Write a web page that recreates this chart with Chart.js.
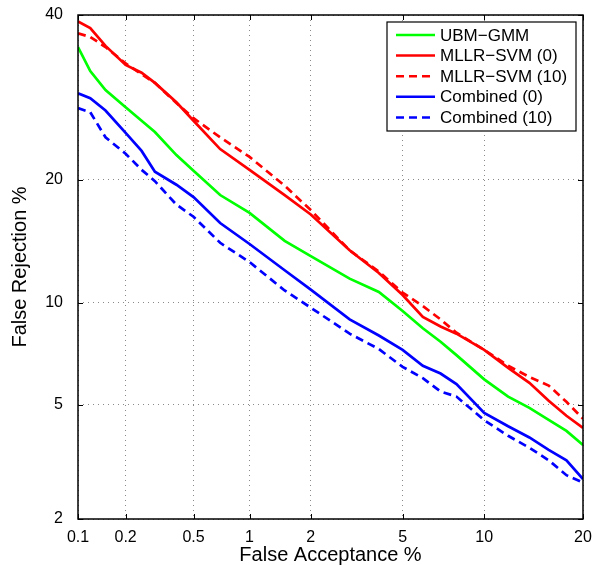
<!DOCTYPE html>
<html>
<head>
<meta charset="utf-8">
<title>DET curves</title>
<script src="https://cdn.jsdelivr.net/npm/chart.js@4/dist/chart.umd.min.js"></script>
<style>
  body { margin: 0; background: #fff; }
  canvas { display: block; }
</style>
</head>
<body>
<canvas id="detChart" width="593" height="565"></canvas>
<script>
// False acceptance operating points (%), shared by every curve
const falseAcceptance = [0.1, 0.12, 0.15, 0.2, 0.25, 0.3, 0.4, 0.5, 0.7, 1, 1.5, 2, 3, 4, 5, 6, 7, 8, 10, 12, 14, 16, 18, 20];

// False rejection (%)
const ubmGmm = [35.65, 32.5, 30.1, 28.0, 26.4, 25.1, 22.55, 20.9, 18.5, 16.85, 14.45, 13.25, 11.6, 10.7, 9.5, 8.5, 7.77, 7.1, 6.0, 5.3, 4.88, 4.46, 4.1, 3.68];
const mllrSvm0 = [39.1, 38.2, 35.8, 33.3, 32.3, 31.0, 28.6, 26.4, 23.2, 21.0, 18.5, 16.7, 13.7, 12.0, 10.5, 9.15, 8.6, 8.2, 7.36, 6.5, 5.85, 5.14, 4.6, 4.2];
const mllrSvm10 = [37.5, 37.0, 35.65, 33.5, 32.1, 31.0, 28.5, 26.7, 24.5, 22.35, 19.4, 17.1, 13.7, 12.1, 10.65, 9.8, 9.0, 8.25, 7.36, 6.6, 6.1, 5.74, 5.1, 4.5];
const combined0 = [29.7, 29.1, 27.6, 25.0, 23.0, 20.8, 19.5, 18.3, 15.95, 14.2, 12.2, 10.85, 9.0, 8.1, 7.36, 6.6, 6.25, 5.8, 4.7, 4.25, 3.9, 3.54, 3.26, 2.8];
const combined10 = [27.9, 27.4, 24.5, 22.7, 21.0, 19.85, 17.6, 16.5, 14.3, 12.8, 10.8, 9.7, 8.2, 7.4, 6.55, 6.05, 5.5, 5.3, 4.45, 3.95, 3.6, 3.26, 2.89, 2.72];

const xTicks = [0.1, 0.2, 0.5, 1, 2, 5, 10, 20];
const yTicks = [2, 5, 10, 20, 40];

// inverse normal CDF (Acklam)
function normInv(p) {
  const a = [-3.969683028665376e+01, 2.209460984245205e+02, -2.759285104469687e+02, 1.383577518672690e+02, -3.066479806614716e+01, 2.506628277459239e+00];
  const b = [-5.447609879822406e+01, 1.615858368580409e+02, -1.556989798598866e+02, 6.680131188771972e+01, -1.328068155288572e+01];
  const c = [-7.784894002430293e-03, -3.223964580411365e-01, -2.400758277161838e+00, -2.549671058804590e+00, 4.374664141464968e+00, 2.938163982698783e+00];
  const d = [7.784695709041462e-03, 3.224671290700398e-01, 2.445134137142996e+00, 3.754408661907416e+00];
  const pl = 0.02425;
  if (p < pl) {
    const q = Math.sqrt(-2 * Math.log(p));
    return (((((c[0]*q+c[1])*q+c[2])*q+c[3])*q+c[4])*q+c[5]) / ((((d[0]*q+d[1])*q+d[2])*q+d[3])*q+1);
  }
  if (p > 1 - pl) {
    const q = Math.sqrt(-2 * Math.log(1 - p));
    return -(((((c[0]*q+c[1])*q+c[2])*q+c[3])*q+c[4])*q+c[5]) / ((((d[0]*q+d[1])*q+d[2])*q+d[3])*q+1);
  }
  const q = p - 0.5, r = q * q;
  return (((((a[0]*r+a[1])*r+a[2])*r+a[3])*r+a[4])*r+a[5])*q / (((((b[0]*r+b[1])*r+b[2])*r+b[3])*r+b[4])*r+1);
}

function normCdf(z) {
  const t = 1 / (1 + 0.3275911 * Math.abs(z) / Math.SQRT2);
  const y = 1 - (((((1.061405429*t - 1.453152027)*t) + 1.421413741)*t - 0.284496736)*t + 0.254829592)*t*Math.exp(-z*z/2);
  return z >= 0 ? (1 + y) / 2 : (1 - y) / 2;
}

// normal-deviate (DET) axis, values in percent
class ProbitScale extends Chart.Scale {
  determineDataLimits() {
    this.min = this.options.min;
    this.max = this.options.max;
  }
  buildTicks() {
    return this.options.tickValues.map(v => ({ value: v }));
  }
  configure() {
    super.configure();
    this._zMin = normInv(this.min / 100);
    this._zRange = normInv(this.max / 100) - this._zMin;
  }
  getLabelForValue(value) {
    return String(value);
  }
  getPixelForValue(value) {
    return this.getPixelForDecimal((normInv(value / 100) - this._zMin) / this._zRange);
  }
  getValueForPixel(pixel) {
    return 100 * normCdf(this._zMin + this.getDecimalForPixel(pixel) * this._zRange);
  }
}
ProbitScale.id = "probit";
ProbitScale.defaults = {};
Chart.register(ProbitScale);

const toPoints = (ys) => falseAcceptance.map((x, i) => ({ x: x, y: ys[i] }));

// box, inward ticks and the legend drawn over the plot
const framePlugin = {
  id: "frame",
  afterDraw(chart) {
    const { ctx, chartArea: area } = chart;
    const xs = chart.scales.x, ys = chart.scales.y;
    ctx.save();
    ctx.strokeStyle = "#000";
    ctx.lineWidth = 1;
    ctx.beginPath();
    xTicks.forEach(v => {
      const px = Math.round(xs.getPixelForValue(v)) + 0.5;
      ctx.moveTo(px, area.bottom); ctx.lineTo(px, area.bottom - 5);
      ctx.moveTo(px, area.top); ctx.lineTo(px, area.top + 5);
    });
    yTicks.forEach(v => {
      const py = Math.round(ys.getPixelForValue(v)) + 0.5;
      ctx.moveTo(area.left, py); ctx.lineTo(area.left + 5, py);
      ctx.moveTo(area.right, py); ctx.lineTo(area.right - 5, py);
    });
    ctx.stroke();
    ctx.lineWidth = 1.5;
    ctx.strokeRect(area.left, area.top, area.right - area.left, area.bottom - area.top);

    // legend
    const lx = 387, ly = 22, lw = 189, lh = 109;
    ctx.fillStyle = "#fff";
    ctx.fillRect(lx, ly, lw, lh);
    ctx.lineWidth = 1.2;
    ctx.strokeRect(lx, ly, lw, lh);
    ctx.font = "17px 'Liberation Sans', Arial, sans-serif";
    ctx.textBaseline = "middle";
    ctx.textAlign = "left";
    chart.data.datasets.forEach((ds, i) => {
      const y = 35 + i * 20.6;
      ctx.strokeStyle = ds.borderColor;
      ctx.lineWidth = 2.5;
      ctx.setLineDash(ds.borderDash || []);
      ctx.beginPath();
      ctx.moveTo(396, y); ctx.lineTo(435, y);
      ctx.stroke();
      ctx.setLineDash([]);
      ctx.fillStyle = "#000";
      ctx.fillText(ds.label, 440, y + 1);
    });
    ctx.restore();
  }
};

const dashed = [8, 5];
const fontFamily = "'Liberation Sans', Arial, sans-serif";

new Chart(document.getElementById("detChart"), {
  type: "line",
  data: {
    datasets: [
      { label: "UBM\u2212GMM", data: toPoints(ubmGmm), borderColor: "#00ff00" },
      { label: "MLLR\u2212SVM (0)", data: toPoints(mllrSvm0), borderColor: "#ff0000" },
      { label: "MLLR\u2212SVM (10)", data: toPoints(mllrSvm10), borderColor: "#ff0000", borderDash: dashed },
      { label: "Combined (0)", data: toPoints(combined0), borderColor: "#0000ff" },
      { label: "Combined (10)", data: toPoints(combined10), borderColor: "#0000ff", borderDash: dashed }
    ]
  },
  options: {
    responsive: false,
    animation: false,
    layout: { padding: { top: 15, right: 10, left: 0, bottom: 0 } },
    elements: {
      line: { borderWidth: 2.7, tension: 0, fill: false },
      point: { radius: 0 }
    },
    plugins: {
      legend: { display: false },
      tooltip: { enabled: false }
    },
    scales: {
      x: {
        type: "probit",
        position: "bottom",
        min: 0.1,
        max: 20,
        tickValues: xTicks,
        afterFit: (scale) => { scale.height = 46; scale.paddingLeft = 0; scale.paddingRight = 0; },
        grid: { color: "#8a8a8a", lineWidth: 1, drawTicks: false },
        border: { display: false, dash: [1, 4] },
        ticks: { color: "#000", padding: 9, maxRotation: 0, autoSkip: false, font: { family: fontFamily, size: 16 } },
        title: { display: true, text: "False Acceptance %", color: "#000", padding: { top: 0, bottom: 0 }, font: { family: fontFamily, size: 20, lineHeight: 1 } }
      },
      y: {
        type: "probit",
        position: "left",
        min: 2,
        max: 40,
        tickValues: yTicks,
        afterFit: (scale) => { scale.width = 78; scale.paddingTop = 0; scale.paddingBottom = 0; },
        grid: { color: "#8a8a8a", lineWidth: 1, drawTicks: false },
        border: { display: false, dash: [1, 4] },
        ticks: { color: "#000", padding: 15, autoSkip: false, font: { family: fontFamily, size: 16 } },
        title: { display: true, text: "False Rejection %", color: "#000", padding: { top: 10, bottom: 0 }, font: { family: fontFamily, size: 20, lineHeight: 1 } }
      }
    }
  },
  plugins: [framePlugin]
});
</script>
</body>
</html>
